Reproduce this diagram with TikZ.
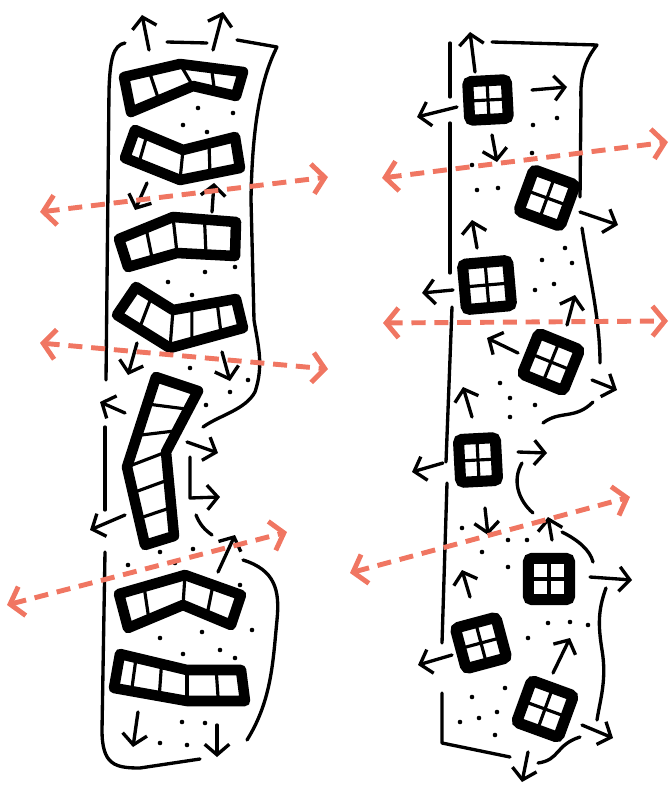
\documentclass[tikz,border=0pt]{standalone}
\usetikzlibrary{arrows.meta,calc}

\definecolor{salmon}{RGB}{240,118,98}

% strip of cells bent once: corners TL, TM, TR, BR, BM, BL, then cuts on each half
\newcommand{\bentstrip}[8]{%
  \draw[divider] #2 -- #5;
  \foreach \f in {#7} {\draw[divider] ($#1!\f!#2$) -- ($#6!\f!#5$);}
  \foreach \f in {#8} {\draw[divider] ($#2!\f!#3$) -- ($#5!\f!#4$);}
  \draw[cellwall] #1 -- #2 -- #3 -- #4 -- #5 -- #6 -- cycle;
}

\tikzset{
  sketch/.style={line width=1.9pt, line cap=round, line join=round},
  flow/.style={sketch, -{Straight Barb[length=6pt,width=14pt]}},
  cellwall/.style={line width=6pt, line join=round},
  divider/.style={line width=1.8pt},
  spread/.style={salmon, line width=2.8pt, dash pattern=on 8pt off 5pt,
    {Straight Barb[length=7pt,width=17pt]}-{Straight Barb[length=7pt,width=17pt]}},
  winbox/.pic={
    \draw[divider] (-21,0) -- (21,0) (0,-21) -- (0,21);
    \draw[line width=6.3pt, rounded corners=2pt] (-21,-21) rectangle (21,21);
  }
}

\begin{document}
\begin{tikzpicture}[x=0.02cm, y=-0.02cm]
  \useasboundingbox (0,0) rectangle (669,787);

  % --- left column: bent strips ---
  \bentstrip{(124,77)}{(180,64)}{(243,72)}{(236,96)}{(193,86)}{(131,112)}{0.45}{0.5}
  \bentstrip{(135,130)}{(183,150)}{(235,137)}{(240,168)}{(180,180)}{(125,158)}{0.25}{0.5}
  \bentstrip{(119,239)}{(173,217)}{(236,222)}{(235,256)}{(177,253)}{(128,267)}{0.5}{0.5}
  \bentstrip{(136,287)}{(173,310)}{(236,299)}{(243,328)}{(170,348)}{(117,315)}{0.42}{0.3,0.7}
  \bentstrip{(156,377)}{(127,467)}{(145,545)}{(174,536)}{(166,452)}{(198,391)}{0.3,0.65}{0.33,0.66}
  \bentstrip{(119,594)}{(185,575)}{(241,595)}{(231,625)}{(183,605)}{(128,628)}{0.38}{0.5}
  \bentstrip{(120,654)}{(187,670)}{(241,670)}{(245,701)}{(187,701)}{(114,688)}{0.24,0.62}{0.54}

  % --- left column: outline ---
  \draw[sketch] (125,43) .. controls (113,45) and (110,60) .. (109,90) -- (106,380);
  \draw[sketch] (105,427) -- (105,510);
  \draw[sketch] (105,552) -- (102,730) .. controls (102,765) and (115,768) .. (140,768) -- (200,759);
  \draw[sketch] (167,42) -- (207,43);
  \draw[sketch] (237,40) -- (277,47) .. controls (260,80) and (252,130) .. (251,200)
    -- (254,320) .. controls (258,345) and (264,365) .. (255,392)
    .. controls (245,410) and (220,415) .. (203,427);
  \draw[sketch] (196,515) .. controls (200,525) and (205,530) .. (212,535);
  \draw[sketch] (243,560) .. controls (275,570) and (280,590) .. (277,620)
    .. controls (273,660) and (272,700) .. (247,740);

  % --- left column: arrows ---
  \draw[flow] (149,50) -- (142,15);
  \draw[flow] (213,50) -- (223,12);
  \draw[flow] (147,183) -- (135,210);
  \draw[flow] (212,212) -- (214,183);
  \draw[flow] (137,343) -- (128,375);
  \draw[flow] (222,352) -- (230,381);
  \draw[flow] (125,413) -- (100,402);
  \draw[flow] (125,515) -- (90,530);
  \draw[flow] (187,442) -- (218,453);
  \draw[flow] (190,457) -- (190,498) -- (220,497);
  \draw[flow] (218,572) -- (235,535);
  \draw[flow] (138,712) -- (133,747);
  \draw[flow] (217,725) -- (217,757);

  % --- right column: windows ---
  \pic[rotate=3, scale=0.92] at (488,100) {winbox};
  \pic[rotate=-20, scale=1.05] at (547,198) {winbox};
  \pic[rotate=5, scale=1.08] at (487,285) {winbox};
  \pic[rotate=-22, scale=1.05] at (551,362) {winbox};
  \pic[rotate=3, xscale=0.88, yscale=1.02] at (478,460) {winbox};
  \pic[scale=0.98] at (549,579) {winbox};
  \pic[rotate=15, scale=1.0] at (481,643) {winbox};
  \pic[rotate=-20, scale=1.06] at (545,709) {winbox};

  % --- right column: outline ---
  \draw[sketch] (450,43) -- (450,97);
  \draw[sketch] (450,123) -- (450,273);
  \draw[sketch] (452,307) -- (446,462);
  \draw[sketch] (447,483) -- (442,643);
  \draw[sketch] (442,693) -- (442,743) -- (510,757);
  \draw[sketch] (492,42) -- (597,45) .. controls (585,60) and (580,75) .. (581,100) -- (580,197);
  \draw[sketch] (582,228) .. controls (590,280) and (600,320) .. (600,363);
  \draw[sketch] (543,423) .. controls (560,410) and (575,420) .. (593,402);
  \draw[sketch] (522,463) .. controls (512,480) and (518,500) .. (533,513);
  \draw[sketch] (562,532) .. controls (578,540) and (590,550) .. (593,562);
  \draw[sketch] (606,588) .. controls (598,610) and (598,625) .. (602,650)
    .. controls (607,680) and (600,700) .. (597,720);
  \draw[sketch] (538,763) .. controls (560,760) and (555,745) .. (580,737);

  % --- right column: arrows ---
  \draw[flow] (475,72) -- (470,32);
  \draw[flow] (457,107) -- (417,117);
  \draw[flow] (532,90) -- (567,87);
  \draw[flow] (492,135) -- (497,162);
  \draw[flow] (580,212) -- (618,225);
  \draw[flow] (477,248) -- (472,220);
  \draw[flow] (453,290) -- (422,293);
  \draw[flow] (518,353) -- (487,338);
  \draw[flow] (567,325) -- (575,295);
  \draw[flow] (592,380) -- (617,390);
  \draw[flow] (472,417) -- (463,387);
  \draw[flow] (443,463) -- (412,472);
  \draw[flow] (518,452) -- (547,453);
  \draw[flow] (485,508) -- (488,535);
  \draw[flow] (552,540) -- (548,517);
  \draw[flow] (590,577) -- (632,580);
  \draw[flow] (470,597) -- (462,570);
  \draw[flow] (452,655) -- (418,665);
  \draw[flow] (553,673) -- (570,638);
  \draw[flow] (582,725) -- (613,738);
  \draw[flow] (528,752) -- (522,782);

  % --- dots ---
  \foreach \p in {(198,108),(233,113),(183,125),(207,132),(235,267),(205,272),
      (168,282),(192,295),(190,368),(248,380),(230,392),(206,405),(160,552),
      (193,549),(128,565),(175,563),(240,585),(160,638),(202,632),(252,630),
      (183,654),(220,650),(235,658),(182,722),(205,723),(160,743),(187,745),
      (557,118),(533,125),(532,153),(472,165),(477,190),(498,188),(565,248),
      (542,260),(572,263),(535,290),(554,284),(500,383),(510,398),(535,405),
      (510,417),(462,528),(508,540),(527,540),(482,552),(508,567),(548,623),
      (570,622),(588,625),(528,638),(505,688),(472,697),(497,712),(479,718),
      (460,722),(495,735)}
    \fill \p circle (1.3pt);

  % --- red spread arrows ---
  \draw[spread] (40,212) -- (328,177);
  \draw[spread] (40,343) -- (328,369);
  \draw[spread] (7,605) -- (287,532);
  \draw[spread] (382,178) -- (668,142);
  \draw[spread] (383,323) -- (668,321);
  \draw[spread] (350,573) -- (630,497);
\end{tikzpicture}
\end{document}
